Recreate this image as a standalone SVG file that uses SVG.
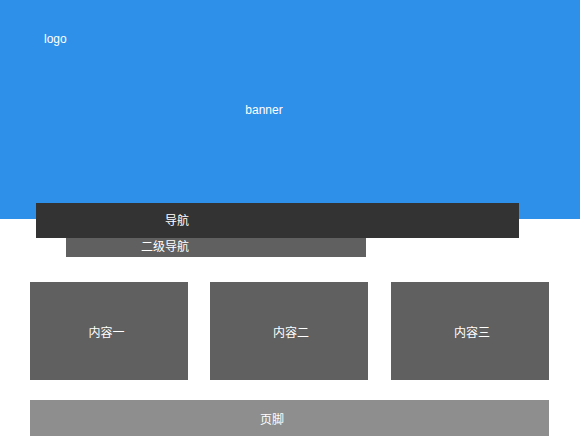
<svg xmlns="http://www.w3.org/2000/svg" width="580" height="447" viewBox="0 0 580 447">
<style>
text{font-family:"Liberation Sans","Noto Sans CJK SC",sans-serif;font-size:12px;fill:#ffffff}
.c{text-anchor:middle}
.box{fill:#606060}
</style>
<rect width="580" height="447" fill="#ffffff"/>
<g id="banner">
<rect x="0" y="0" width="580" height="219" fill="#2f90e9"/>
<text x="264" y="114" class="c">banner</text>
</g>
<g id="logo">
<text x="44" y="43">logo</text>
</g>
<g id="nav">
<rect x="36" y="203" width="483" height="35" fill="#333333"/>
<text x="177" y="225" class="c">导航</text>
</g>
<g id="subnav">
<rect x="66" y="238" width="300" height="19" fill="#606060"/>
<text x="165" y="251" class="c">二级导航</text>
</g>
<g id="content1">
<rect class="box" x="30" y="282" width="158" height="98"/>
<text x="106.5" y="337" class="c">内容一</text>
</g>
<g id="content2">
<rect class="box" x="210" y="282" width="158" height="98"/>
<text x="291" y="337" class="c">内容二</text>
</g>
<g id="content3">
<rect class="box" x="391" y="282" width="158" height="98"/>
<text x="472" y="337" class="c">内容三</text>
</g>
<g id="footer">
<rect x="30" y="400" width="519" height="36" fill="#8e8e8e"/>
<text x="272" y="424" class="c">页脚</text>
</g>
<g id="connectors"></g>
</svg>
